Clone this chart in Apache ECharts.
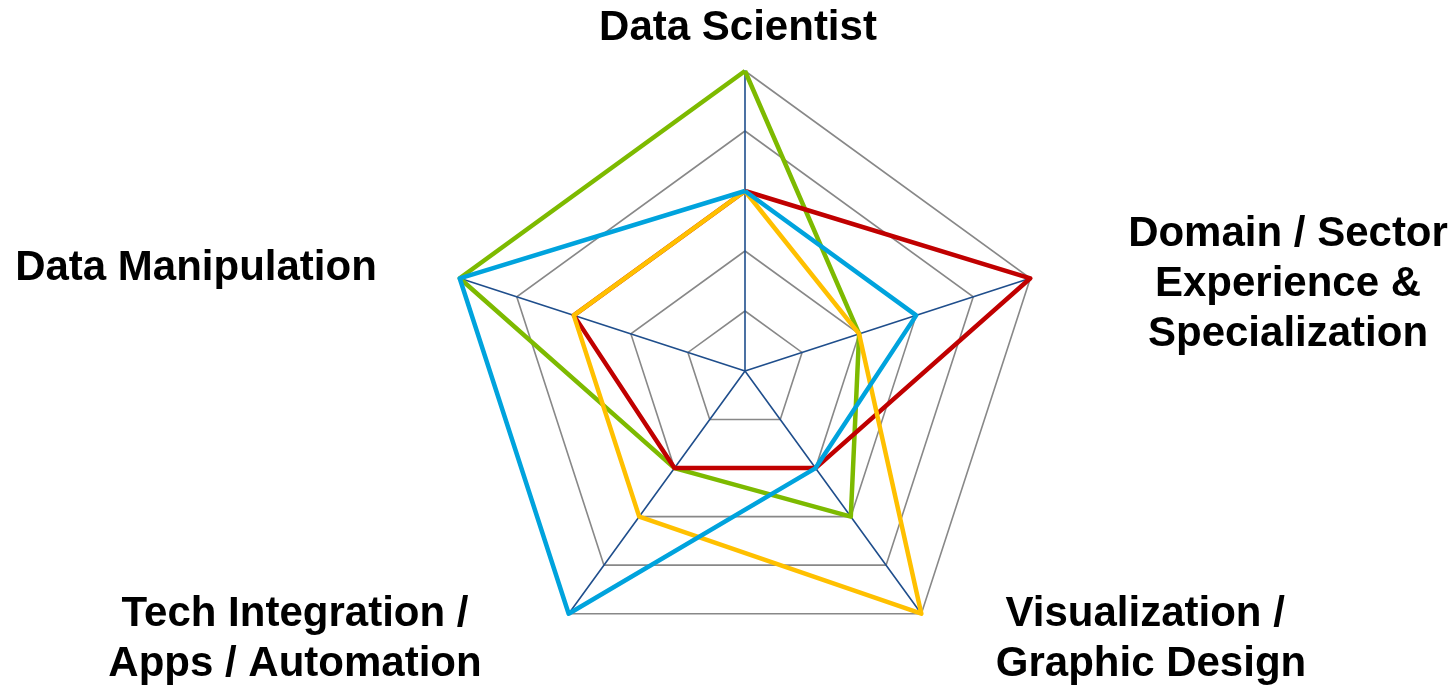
<!DOCTYPE html>
<html>
<head>
<meta charset="utf-8">
<title>Data Science Skill Profiles</title>
<script src="https://cdn.jsdelivr.net/npm/echarts@6/dist/echarts.min.js"></script>
<style>
  html, body { margin: 0; padding: 0; background: #ffffff; }
  #chart { width: 1455px; height: 688px; }
</style>
</head>
<body>
<div id="chart"></div>
<script>
// Radar axes in ECharts order (counter-clockwise from the top)
const skills = [
  'Data Scientist',
  'Data Manipulation',
  'Tech Integration /\nApps / Automation',
  'Visualization / \nGraphic Design',
  'Domain / Sector\nExperience &\nSpecialization'
];
const maxScore = 5;

// Skill profiles, one value per axis, in the order above
const greenProfile  = [5, 5, 2, 3, 2];
const redProfile    = [3, 3, 2, 2, 5];
const yellowProfile = [3, 3, 3, 5, 2];
const blueProfile   = [3, 5, 5, 2, 3];

const profileColors = {
  green: '#7DBA00',
  red: '#C00000',
  yellow: '#FFC000',
  blue: '#00A3DD'
};

// Axis label placement (centre of each text block)
const labelPlacement = [
  { x: 738, y: 28 },
  { x: 196, y: 268 },
  { x: 295, y: 639 },
  { x: 1151, y: 639 },
  { x: 1288, y: 284 }
];

const chart = echarts.init(document.getElementById('chart'), null, { renderer: 'canvas' });

function profileSeries(name, values, color) {
  return {
    type: 'radar',
    name: name,
    symbol: 'none',
    silent: true,
    lineStyle: { color: color, width: 4.5 },
    data: [{ value: values, name: name }]
  };
}

const option = {
  backgroundColor: '#ffffff',
  animation: false,
  radar: {
    center: [745, 371],
    radius: 300,
    startAngle: 90,
    shape: 'polygon',
    splitNumber: 5,
    indicator: skills.map(function (s) { return { name: s, min: 0, max: maxScore }; }),
    axisName: { show: false },
    axisLine: { lineStyle: { color: '#1F4E8C', width: 1.6 } },
    splitLine: { lineStyle: { color: '#888888', width: 1.6 } },
    splitArea: { show: false },
    axisTick: { show: false },
    axisLabel: { show: false }
  },
  series: [
    profileSeries('Green', greenProfile, profileColors.green),
    profileSeries('Red', redProfile, profileColors.red),
    profileSeries('Yellow', yellowProfile, profileColors.yellow),
    profileSeries('Blue', blueProfile, profileColors.blue)
  ],
  graphic: skills.map(function (s, i) {
    return {
      type: 'text',
      x: labelPlacement[i].x,
      y: labelPlacement[i].y,
      silent: true,
      style: {
        text: s,
        fill: '#000000',
        font: 'bold 42px "Liberation Sans", Arial, sans-serif',
        lineHeight: 50,
        align: 'center',
        verticalAlign: 'middle'
      }
    };
  })
};

chart.setOption(option);
</script>
</body>
</html>
